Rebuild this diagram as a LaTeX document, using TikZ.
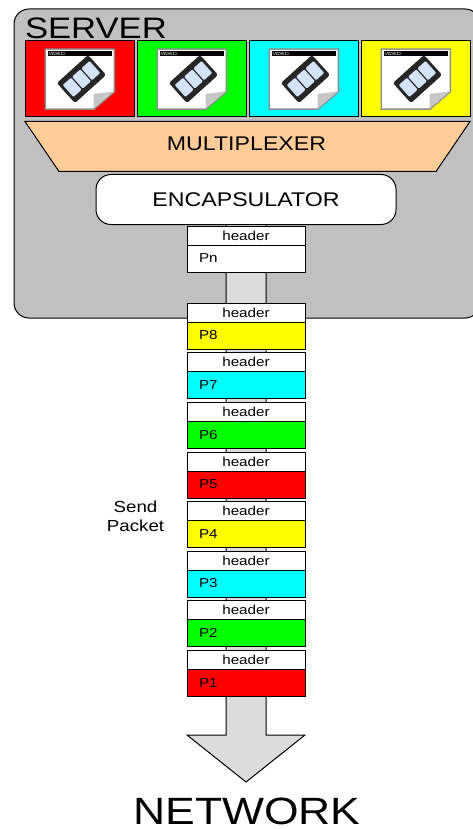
\documentclass[tikz,border=0pt]{standalone}
\usepackage{fontspec}
\setmainfont[FakeStretch=1.17]{Liberation Sans}
\usetikzlibrary{positioning}
\definecolor{servergray}{HTML}{C0C0C0}
\definecolor{arrowgray}{HTML}{DCDCDC}
\definecolor{muxorange}{HTML}{FFCC99}
\definecolor{pktred}{HTML}{FF0000}
\definecolor{pktgreen}{HTML}{00FF00}
\definecolor{pktcyan}{HTML}{00FFFF}
\definecolor{pktyellow}{HTML}{FFFF00}
\definecolor{framblue}{HTML}{D5E3FA}
\begin{document}
\begin{tikzpicture}[
  x=1pt, y=-1pt,
  every node/.style={inner sep=0pt, outer sep=0pt},
  tile/.style={draw, line width=1pt, minimum width=109pt, minimum height=76pt},
  hdr/.style={draw, line width=1pt, fill=white, minimum width=118pt, minimum height=19pt, font=\fontsize{13}{15}\selectfont},
  body/.style={draw, line width=1pt, minimum width=118pt, minimum height=27pt, inner xsep=12pt, text width=94pt, font=\fontsize{13}{15}\selectfont, align=left},
  title/.style={font=\fontsize{19.8}{22}\selectfont, text depth=0pt}
]
\clip (0,0) rectangle (473,829);
% server box
\node[draw, line width=1pt, fill=servergray, rounded corners=15pt, minimum width=466pt, minimum height=309pt, anchor=north west] (server) at (14,9) {};
\node[font=\fontsize{29.6}{31}\selectfont, anchor=base west] (servername) at (25,39) {SERVER};
% video tiles
\foreach \name/\col/\xpos in {red/pktred/25, green/pktgreen/137, cyan/pktcyan/249, yellow/pktyellow/361} {
  \node[tile, fill=\col, anchor=north west] (\name tile) at (\xpos,41) {};
  \begin{scope}[shift={(\xpos,41)}]
    \fill[black!45] (19.5,7.5) -- (90,7.5) -- (90,51) -- (69,69) -- (19.5,69) -- cycle;
    \fill[white] (21,9) -- (88.5,9) -- (88.5,50.5) -- (68.5,67.5) -- (21,67.5) -- cycle;
    \fill[black!22] (88.5,50.5) -- (68.5,67.5) -- (68.5,53) -- cycle;
    \fill[black] (23,10) rectangle (87,15.5);
    \node[text=white, font=\fontsize{4.5}{5}\selectfont, anchor=west] (\name label) at (23.5,12.8) {VIDEO};
    \begin{scope}[shift={(56.5,38)}, rotate=42]
      \fill[black!85, rounded corners=2.5pt] (-21,-13.5) rectangle (21,13.5);
      \foreach \fx in {-18,-5.5,7} {
        \fill[framblue, rounded corners=1pt] (\fx,-8) rectangle ++(11,16);
      }
    \end{scope}
  \end{scope}
}
% multiplexer and encapsulator
\draw[line width=1pt, fill=muxorange] (25,121.5) -- (470,121.5) -- (436,171.5) -- (59,171.5) -- cycle;
\node[title] (mux) at (246.5,143.5) {MULTIPLEXER};
\node[draw, line width=1pt, fill=white, rounded corners=15pt, minimum width=300pt, minimum height=50pt, title] (encap) at (246,199.5) {ENCAPSULATOR};
% big arrow
\node[font=\fontsize{38}{40}\selectfont, text depth=0pt, anchor=base] (network) at (247,824.5) {NETWORK};
\coordinate (tip) at (246,782);
\draw[line width=1pt, fill=arrowgray] (encap.south -| 226,0) -- (226,735) -- (187,735) -- (tip) -- (305,735) -- (266,735) -- (encap.south -| 266,0) -- cycle;
% packets
\node[hdr] (hn) at (246,235.5) {header};
\node[body, fill=white, below=0pt of hn] (pn) {Pn};
\foreach \name/\col/\ypos in {8/pktyellow/312.5, 7/pktcyan/362, 6/pktgreen/412, 5/pktred/461.5, 4/pktyellow/511, 3/pktcyan/560.5, 2/pktgreen/610, 1/pktred/660} {
  \node[hdr] (h\name) at (246,\ypos) {header};
  \node[body, fill=\col, below=0pt of h\name] (p\name) {P\name};
}
\node[font=\fontsize{16}{19}\selectfont, align=center] (send) at (135.5,516) {Send\\Packet};
\end{tikzpicture}
\end{document}
